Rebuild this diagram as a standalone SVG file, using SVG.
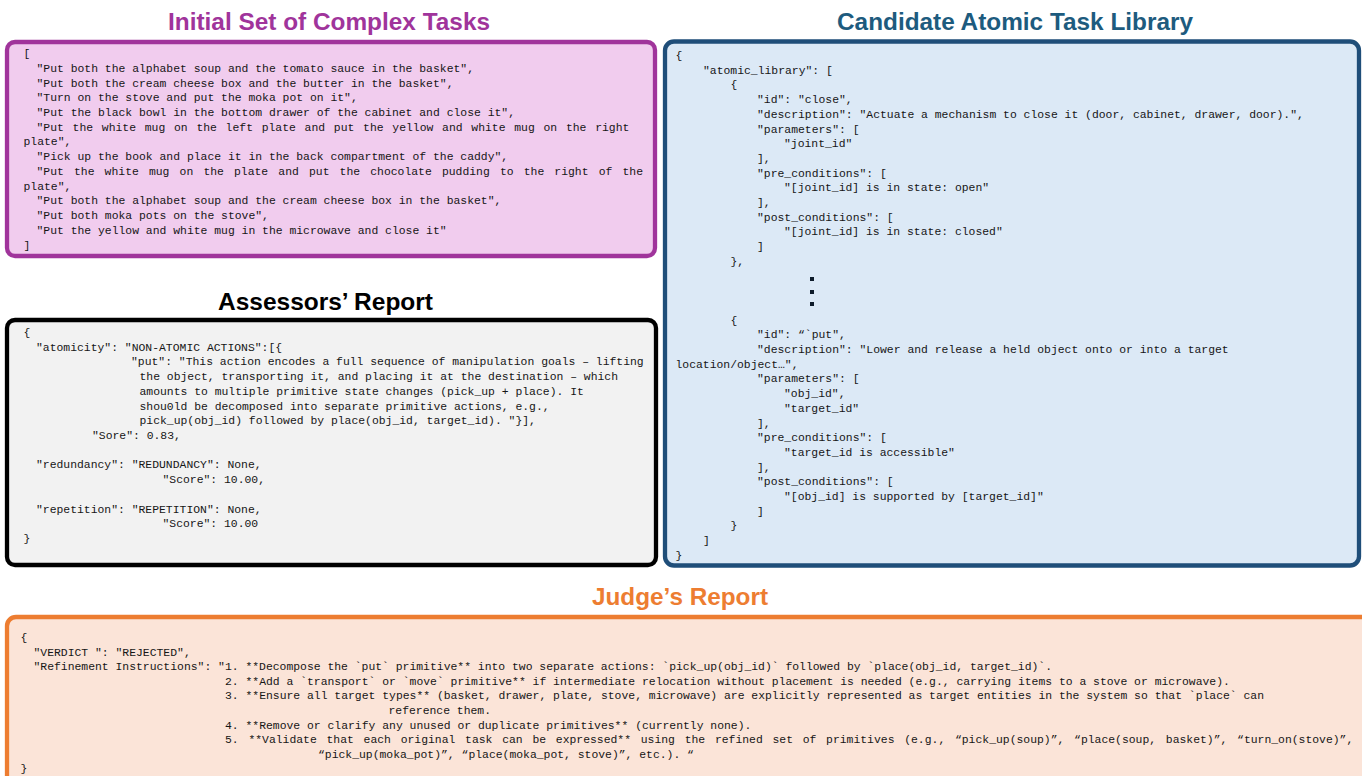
<svg xmlns="http://www.w3.org/2000/svg" width="1362" height="776" viewBox="0 0 1362 776">
<style>
.mono{font-family:"Liberation Mono","DejaVu Sans Mono",monospace;font-size:11.4px;fill:#161616;white-space:pre;}
.mj{font-size:11.4px;}
.title{font-family:"Liberation Sans",Arial,sans-serif;font-weight:bold;font-size:24px;}
.box{stroke-width:4.3;}
</style>
<rect width="1362" height="776" fill="#ffffff"/>

<g id="initial-tasks">
  <text class="title" x="168" y="30" textLength="322" lengthAdjust="spacingAndGlyphs" fill="#a0349b">Initial Set of Complex Tasks</text>
  <rect class="box" x="7" y="42" width="648" height="214" rx="8" fill="#f1ccee" stroke="#a0349b"/>
  <text class="mono" x="23.5" y="57">[</text>
  <text class="mono" x="36.5" y="71.7">"Put both the alphabet soup and the tomato sauce in the basket",</text>
  <text class="mono" x="36.5" y="86.5">"Put both the cream cheese box and the butter in the basket",</text>
  <text class="mono" x="36.5" y="101.2">"Turn on the stove and put the moka pot on it",</text>
  <text class="mono" x="36.5" y="115.9">"Put the black bowl in the bottom drawer of the cabinet and close it",</text>
  <text class="mono" x="36.5" y="130.7" word-spacing="1.9">"Put the white mug on the left plate and put the yellow and white mug on the right</text>
  <text class="mono" x="23.5" y="145.4">plate",</text>
  <text class="mono" x="36.5" y="160.1">"Pick up the book and place it in the back compartment of the caddy",</text>
  <text class="mono" x="36.5" y="174.8" word-spacing="3.3">"Put the white mug on the plate and put the chocolate pudding to the right of the</text>
  <text class="mono" x="23.5" y="189.6">plate",</text>
  <text class="mono" x="36.5" y="204.3">"Put both the alphabet soup and the cream cheese box in the basket",</text>
  <text class="mono" x="36.5" y="219">"Put both moka pots on the stove",</text>
  <text class="mono" x="36.5" y="233.8">"Put the yellow and white mug in the microwave and close it"</text>
  <text class="mono" x="23.5" y="248.5">]</text>
</g>

<g id="assessors-report">
  <text class="title" x="218" y="310" textLength="215" lengthAdjust="spacingAndGlyphs" fill="#000000">Assessors’ Report</text>
  <rect class="box" x="7" y="320" width="649" height="245" rx="8" fill="#f2f2f2" stroke="#000000" stroke-width="4.6"/>
  <text class="mono" x="23.5" y="336">{</text>
  <text class="mono" x="36" y="350.7">"atomicity": "NON-ATOMIC ACTIONS":[{</text>
  <text class="mono" x="131" y="365.4">"put": "This action encodes a full sequence of manipulation goals – lifting</text>
  <text class="mono" x="139.5" y="380.1">the object, transporting it, and placing it at the destination – which</text>
  <text class="mono" x="139.5" y="394.8">amounts to multiple primitive state changes (pick_up + place). It</text>
  <text class="mono" x="139.5" y="409.6">shou0ld be decomposed into separate primitive actions, e.g.,</text>
  <text class="mono" x="139.5" y="424.3">pick_up(obj_id) followed by place(obj_id, target_id). "}],</text>
  <text class="mono" x="92" y="439">"Sore": 0.83,</text>
  <text class="mono" x="36" y="468.4">"redundancy": "REDUNDANCY": None,</text>
  <text class="mono" x="162.5" y="483.1">"Score": 10.00,</text>
  <text class="mono" x="36" y="512.5">"repetition": "REPETITION": None,</text>
  <text class="mono" x="162.5" y="527.2">"Score": 10.00</text>
  <text class="mono" x="23.5" y="542">}</text>
</g>

<g id="atomic-library">
  <text class="title" x="837" y="30" textLength="356" lengthAdjust="spacingAndGlyphs" fill="#1d5b7e">Candidate Atomic Task Library</text>
  <rect class="box" x="665" y="41.5" width="694" height="524" rx="9" fill="#dce9f6" stroke="#1f4e79"/>
  <text class="mono" x="675.5" y="59">{</text>
  <text class="mono" x="703" y="73.7">"atomic_library": [</text>
  <text class="mono" x="730.5" y="88.4">{</text>
  <text class="mono" x="757" y="103.1">"id": "close",</text>
  <text class="mono" x="757" y="117.8">"description": "Actuate a mechanism to close it (door, cabinet, drawer, door).",</text>
  <text class="mono" x="757" y="132.5">"parameters": [</text>
  <text class="mono" x="784" y="147.2">"joint_id"</text>
  <text class="mono" x="757" y="161.9">],</text>
  <text class="mono" x="757" y="176.6">"pre_conditions": [</text>
  <text class="mono" x="784" y="191.3">"[joint_id] is in state: open"</text>
  <text class="mono" x="757" y="206">],</text>
  <text class="mono" x="757" y="220.7">"post_conditions": [</text>
  <text class="mono" x="784" y="235.4">"[joint_id] is in state: closed"</text>
  <text class="mono" x="757" y="250.1">]</text>
  <text class="mono" x="730.5" y="264.8">},</text>
  <rect x="810" y="277" width="4" height="4" fill="#0d1b2a"/>
  <rect x="810" y="290" width="4" height="4" fill="#0d1b2a"/>
  <rect x="810" y="302" width="4" height="4" fill="#0d1b2a"/>
  <text class="mono" x="730.5" y="323.6">{</text>
  <text class="mono" x="757" y="338.3">"id": “`put",</text>
  <text class="mono" x="757" y="353">"description": "Lower and release a held object onto or into a target</text>
  <text class="mono" x="675.5" y="367.7">location/object…",</text>
  <text class="mono" x="757" y="382.4">"parameters": [</text>
  <text class="mono" x="784" y="397.1">"obj_id",</text>
  <text class="mono" x="784" y="411.8">"target_id"</text>
  <text class="mono" x="757" y="426.5">],</text>
  <text class="mono" x="757" y="441.2">"pre_conditions": [</text>
  <text class="mono" x="784" y="455.9">"target_id is accessible"</text>
  <text class="mono" x="757" y="470.6">],</text>
  <text class="mono" x="757" y="485.3">"post_conditions": [</text>
  <text class="mono" x="784" y="500">"[obj_id] is supported by [target_id]"</text>
  <text class="mono" x="757" y="514.7">]</text>
  <text class="mono" x="730.5" y="529.4">}</text>
  <text class="mono" x="703" y="544.1">]</text>
  <text class="mono" x="675.5" y="558.8">}</text>
</g>

<g id="judge-report">
  <text class="title" x="592" y="605" textLength="176" lengthAdjust="spacingAndGlyphs" fill="#ed7d31">Judge’s Report</text>
  <rect class="box" x="7" y="617" width="1400" height="220" rx="9" fill="#fbe4d8" stroke="#ed7d31"/>
  <text class="mono mj" x="20.5" y="641">{</text>
  <text class="mono mj" x="33.5" y="655.6">"VERDICT ": "REJECTED",</text>
  <text class="mono mj" x="33.5" y="670.2">"Refinement Instructions": "1. **Decompose the `put` primitive** into two separate actions: `pick_up(obj_id)` followed by `place(obj_id, target_id)`.</text>
  <text class="mono mj" x="225" y="684.8">2. **Add a `transport` or `move` primitive** if intermediate relocation without placement is needed (e.g., carrying items to a stove or microwave).</text>
  <text class="mono mj" x="225" y="699.4">3. **Ensure all target types** (basket, drawer, plate, stove, microwave) are explicitly represented as target entities in the system so that `place` can</text>
  <text class="mono mj" x="388.5" y="714">reference them.</text>
  <text class="mono mj" x="225" y="728.6">4. **Remove or clarify any unused or duplicate primitives** (currently none).</text>
  <text class="mono mj" x="225" y="743.2" word-spacing="2.9">5. **Validate that each original task can be expressed** using the refined set of primitives (e.g., “pick_up(soup)”, “place(soup, basket)”, “turn_on(stove)”,</text>
  <text class="mono mj" x="318" y="757.8">“pick_up(moka_pot)”, “place(moka_pot, stove)”, etc.). “</text>
  <text class="mono mj" x="20.5" y="772.4">}</text>
</g>

<g id="connectors"></g>
</svg>
